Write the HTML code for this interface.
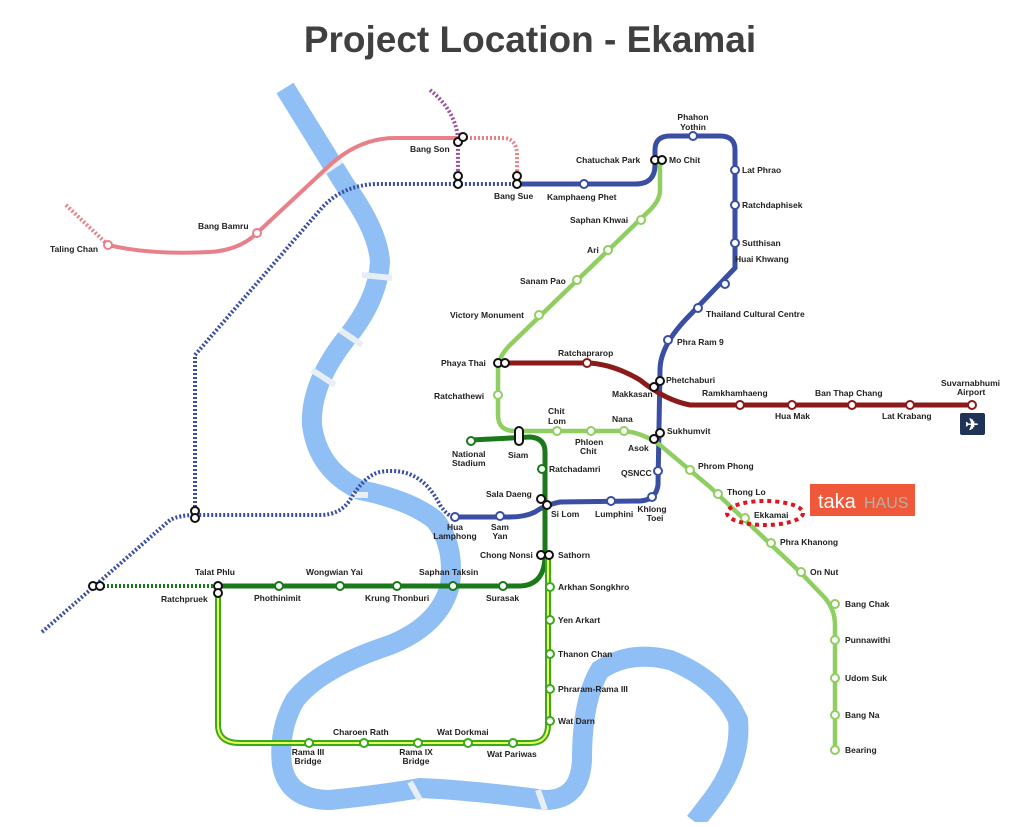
<!DOCTYPE html>
<html><head><meta charset="utf-8"><style>
html,body{margin:0;padding:0;background:#fff}
svg text{font-family:"Liberation Sans",sans-serif;font-weight:bold;font-size:8.5px;fill:#222}
</style></head><body>
<svg width="1024" height="822" viewBox="0 0 1024 822" xmlns="http://www.w3.org/2000/svg">
<rect width="1024" height="822" fill="#fff"/>
<text x="530" y="52" text-anchor="middle" style="font-size:37px;fill:#404040">Project Location - Ekamai</text>
<!-- river -->
<path d="M285,88 L345,185 Q378,230 380,262 Q378,300 345,340 Q310,385 312,425 Q318,470 360,490 Q410,500 435,520 Q455,545 450,585 Q440,625 390,645 Q320,668 295,700 Q278,730 282,765 Q288,800 330,800 Q380,795 420,788 Q470,790 545,800 Q580,800 582,760 Q582,700 600,670 Q630,650 670,660 Q720,680 738,720 Q742,760 712,800 L695,822" fill="none" stroke="#8fbff5" stroke-width="20"/>
<g stroke="#e8eef5" stroke-width="6" fill="none">
<line x1="318" y1="176" x2="342" y2="160"/><line x1="362" y1="275" x2="392" y2="278"/><line x1="340" y1="330" x2="362" y2="345"/><line x1="312" y1="370" x2="335" y2="385"/><line x1="352" y1="495" x2="368" y2="495"/><line x1="410" y1="782" x2="420" y2="800"/><line x1="538" y1="790" x2="545" y2="810"/>
</g>
<!-- pink -->
<path d="M66,205 L108,245" stroke="#e8808a" stroke-width="4" stroke-dasharray="2,2" fill="none"/>
<path d="M108,245 Q150,255 210,252 Q240,250 257,233 L330,165 Q360,138 395,138 L458,138" stroke="#e8808a" stroke-width="4" fill="none"/>
<path d="M462,138 L505,138 Q517,140 517,155 L517,180" stroke="#e8808a" stroke-width="4" stroke-dasharray="2,2" fill="none"/>
<!-- purple -->
<path d="M430,90 Q455,110 458,138 L458,182" stroke="#9a4fa0" stroke-width="4" stroke-dasharray="2,2" fill="none"/>
<!-- blue dotted -->
<path d="M42,632 L170,520 Q180,515 195,515 L320,515 Q340,515 350,500 Q365,475 380,472 Q420,465 440,505 Q448,517 455,517" stroke="#3a4fa3" stroke-width="4" stroke-dasharray="2,2" fill="none"/>
<path d="M195,515 L195,355 L320,210 Q340,186 375,184 L517,184" stroke="#3a4fa3" stroke-width="4" stroke-dasharray="2,2" fill="none"/>
<!-- blue solid -->
<path d="M517,184 L635,184 Q655,184 655,165 L655,150 Q655,136 670,136 L720,136 Q735,136 735,150 L735,268 L690,315 Q660,345 660,370 L658,485 Q656,500 640,501 L560,502 Q545,505 535,512 Q525,517 510,517 L455,517" stroke="#3a4fa3" stroke-width="5" fill="none"/>
<!-- light green -->
<path d="M660,160 L660,190 Q660,200 650,210 L510,345 Q498,357 498,370 L498,415 Q498,431 515,431 L620,431 Q640,431 660,445 L710,487 L800,572 L825,598 Q835,610 835,625 L835,750" stroke="#8fce60" stroke-width="4.5" fill="none"/>
<!-- airport -->
<path d="M500,363 L590,363 Q615,365 640,380 Q665,400 690,405 L973,405" stroke="#8b1a1a" stroke-width="5" fill="none"/>
<!-- silom -->
<path d="M471,440 L530,437 Q545,438 545,452 L545,555 Q545,585 520,586 L218,586" stroke="#1a7a1a" stroke-width="5" fill="none"/>
<path d="M95,586 L218,586" stroke="#1a7a1a" stroke-width="4" stroke-dasharray="2,2" fill="none"/>
<!-- purple/gold line -->
<path d="M218,590 L218,725 Q218,743 240,743 L530,743 Q548,743 548,725 L548,556" stroke="#3aaa1a" stroke-width="6" fill="none"/>
<path d="M218,590 L218,725 Q218,743 240,743 L530,743 Q548,743 548,725 L548,556" stroke="#e8ff60" stroke-width="2" fill="none"/>
<!-- stations -->
<g fill="#fff" stroke-width="2">
<g stroke="#e8808a"><circle cx="108" cy="245" r="4"/><circle cx="257" cy="233" r="4"/></g>
<g stroke="#3a4fa3"><circle cx="584" cy="184" r="4"/><circle cx="693" cy="136" r="4"/><circle cx="735" cy="170" r="4"/><circle cx="735" cy="205" r="4"/><circle cx="735" cy="243" r="4"/><circle cx="725" cy="284" r="4"/><circle cx="698" cy="308" r="4"/><circle cx="668" cy="340" r="4"/><circle cx="658" cy="471" r="4"/><circle cx="652" cy="497" r="4"/><circle cx="611" cy="501" r="4"/><circle cx="500" cy="516" r="4"/><circle cx="455" cy="517" r="4"/></g>
<g stroke="#8fce60"><circle cx="641" cy="220" r="4"/><circle cx="608" cy="250" r="4"/><circle cx="577" cy="280" r="4"/><circle cx="539" cy="315" r="4"/><circle cx="498" cy="395" r="4"/><circle cx="557" cy="431" r="4"/><circle cx="591" cy="431" r="4"/><circle cx="624" cy="431" r="4"/><circle cx="690" cy="470" r="4"/><circle cx="718" cy="494" r="4"/><circle cx="745" cy="518" r="4"/><circle cx="771" cy="543" r="4"/><circle cx="801" cy="572" r="4"/><circle cx="835" cy="604" r="4"/><circle cx="835" cy="640" r="4"/><circle cx="835" cy="678" r="4"/><circle cx="835" cy="715" r="4"/><circle cx="835" cy="750" r="4"/></g>
<g stroke="#8b1a1a"><circle cx="587" cy="363" r="4"/><circle cx="740" cy="405" r="4"/><circle cx="792" cy="405" r="4"/><circle cx="852" cy="405" r="4"/><circle cx="910" cy="405" r="4"/><circle cx="972" cy="405" r="4"/></g>
<g stroke="#1a7a1a"><circle cx="471" cy="441" r="4"/><circle cx="542" cy="469" r="4"/><circle cx="503" cy="586" r="4"/><circle cx="453" cy="586" r="4"/><circle cx="397" cy="586" r="4"/><circle cx="340" cy="586" r="4"/><circle cx="279" cy="586" r="4"/></g>
<g stroke="#3aaa1a"><circle cx="550" cy="587" r="4"/><circle cx="550" cy="620" r="4"/><circle cx="550" cy="654" r="4"/><circle cx="550" cy="689" r="4"/><circle cx="550" cy="721" r="4"/><circle cx="513" cy="743" r="4"/><circle cx="468" cy="743" r="4"/><circle cx="418" cy="743" r="4"/><circle cx="364" cy="743" r="4"/><circle cx="309" cy="743" r="4"/></g>
<g stroke="#111"><circle cx="458" cy="142" r="4"/><circle cx="463" cy="137" r="4"/><circle cx="458" cy="176" r="4"/><circle cx="458" cy="184" r="4"/><circle cx="517" cy="176" r="4"/><circle cx="517" cy="184" r="4"/><circle cx="655" cy="160" r="4"/><circle cx="662" cy="160" r="4"/><circle cx="498" cy="363" r="4"/><circle cx="505" cy="363" r="4"/><circle cx="654" cy="387" r="4"/><circle cx="660" cy="381" r="4"/><circle cx="654" cy="439" r="4"/><circle cx="660" cy="433" r="4"/><circle cx="541" cy="499" r="4"/><circle cx="547" cy="505" r="4"/><circle cx="541" cy="555" r="4"/><circle cx="549" cy="555" r="4"/><circle cx="218" cy="586" r="4"/><circle cx="218" cy="593" r="4"/><circle cx="93" cy="586" r="4"/><circle cx="100" cy="586" r="4"/><circle cx="195" cy="511" r="4"/><circle cx="195" cy="518" r="4"/><rect x="515" y="427" width="8" height="18" rx="4"/></g>
</g>
<!-- labels -->
<g>
<text x="50" y="252">Taling Chan</text><text x="198" y="229">Bang Bamru</text><text x="410" y="152">Bang Son</text><text x="494" y="199">Bang Sue</text><text x="547" y="200">Kamphaeng Phet</text>
<text x="576" y="163">Chatuchak Park</text><text x="669" y="163">Mo Chit</text><text x="693" y="120" text-anchor="middle">Phahon</text><text x="693" y="130" text-anchor="middle">Yothin</text>
<text x="742" y="173">Lat Phrao</text><text x="742" y="208">Ratchdaphisek</text><text x="742" y="246">Sutthisan</text><text x="735" y="262">Huai Khwang</text><text x="706" y="317">Thailand Cultural Centre</text><text x="677" y="345">Phra Ram 9</text>
<text x="570" y="223">Saphan Khwai</text><text x="587" y="253">Ari</text><text x="520" y="284">Sanam Pao</text><text x="450" y="318">Victory Monument</text>
<text x="441" y="366">Phaya Thai</text><text x="558" y="356">Ratchaprarop</text><text x="434" y="399">Ratchathewi</text>
<text x="666" y="383">Phetchaburi</text><text x="612" y="397">Makkasan</text><text x="702" y="396">Ramkhamhaeng</text><text x="815" y="396">Ban Thap Chang</text><text x="941" y="386">Suvarnabhumi</text><text x="957" y="395">Airport</text>
<text x="775" y="419">Hua Mak</text><text x="882" y="419">Lat Krabang</text>
<text x="548" y="414">Chit</text><text x="548" y="424">Lom</text><text x="612" y="422">Nana</text><text x="575" y="445">Phloen</text><text x="580" y="454">Chit</text><text x="628" y="451">Asok</text><text x="667" y="434">Sukhumvit</text>
<text x="452" y="457">National</text><text x="452" y="466">Stadium</text><text x="508" y="458">Siam</text><text x="549" y="472">Ratchadamri</text><text x="621" y="476">QSNCC</text>
<text x="698" y="469">Phrom Phong</text><text x="727" y="495">Thong Lo</text><text x="754" y="518">Ekkamai</text><text x="780" y="545">Phra Khanong</text><text x="810" y="575">On Nut</text>
<text x="845" y="607">Bang Chak</text><text x="845" y="643">Punnawithi</text><text x="845" y="681">Udom Suk</text><text x="845" y="718">Bang Na</text><text x="845" y="753">Bearing</text>
<text x="486" y="497">Sala Daeng</text><text x="551" y="517">Si Lom</text><text x="595" y="517">Lumphini</text><text x="652" y="512" text-anchor="middle">Khlong</text><text x="655" y="521" text-anchor="middle">Toei</text>
<text x="455" y="530" text-anchor="middle">Hua</text><text x="455" y="539" text-anchor="middle">Lamphong</text><text x="500" y="530" text-anchor="middle">Sam</text><text x="500" y="539" text-anchor="middle">Yan</text>
<text x="480" y="558">Chong Nonsi</text><text x="558" y="558">Sathorn</text>
<text x="195" y="575">Talat Phlu</text><text x="161" y="602">Ratchpruek</text><text x="254" y="601">Phothinimit</text><text x="306" y="575">Wongwian Yai</text><text x="365" y="601">Krung Thonburi</text><text x="419" y="575">Saphan Taksin</text><text x="486" y="601">Surasak</text>
<text x="558" y="590">Arkhan Songkhro</text><text x="558" y="623">Yen Arkart</text><text x="558" y="657">Thanon Chan</text><text x="558" y="692">Phraram-Rama III</text><text x="558" y="724">Wat Darn</text>
<text x="333" y="735">Charoen Rath</text><text x="437" y="735">Wat Dorkmai</text><text x="487" y="757">Wat Pariwas</text>
<text x="308" y="755" text-anchor="middle">Rama III</text><text x="308" y="764" text-anchor="middle">Bridge</text><text x="416" y="755" text-anchor="middle">Rama IX</text><text x="416" y="764" text-anchor="middle">Bridge</text>
</g>
<ellipse cx="765" cy="513" rx="38" ry="12" fill="none" stroke="#e0141e" stroke-width="4" stroke-dasharray="4,4"/>
<rect x="810" y="484" width="105" height="32" fill="#f0583a"/>
<text x="818" y="508" style="font-size:20px;font-weight:normal;fill:#fff">taka</text>
<text x="864" y="508" style="font-size:16px;font-weight:normal;fill:#b8b0a0">HAUS</text>
<rect x="960" y="413" width="25" height="22" rx="2" fill="#1f3358"/>
<text x="972" y="430" text-anchor="middle" style="font-size:16px;fill:#fff">✈</text>
</svg>
</body></html>
